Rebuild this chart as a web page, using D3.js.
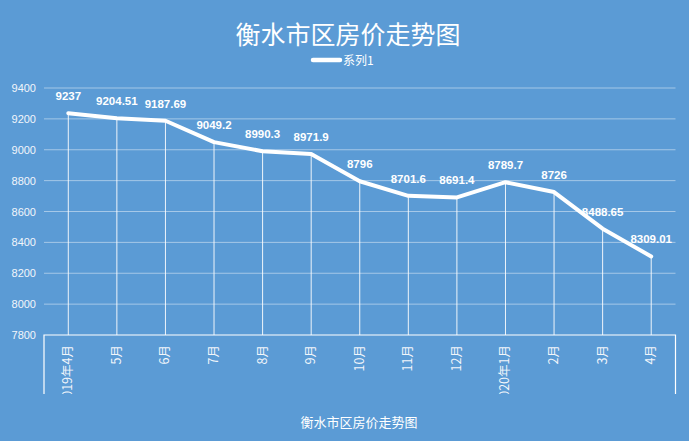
<!DOCTYPE html>
<html><head><meta charset="utf-8">
<script src="https://cdn.jsdelivr.net/npm/d3@7"></script>
<style>
html,body{margin:0;padding:0;background:#5b9bd5;}
svg{display:block;}
</style></head>
<body>
<svg id="c" width="689" height="441"></svg>
<script>
const categories = ["2019年4月","5月","6月","7月","8月","9月","10月","11月","12月","2020年1月","2月","3月","4月"];
const values = [9237, 9204.51, 9187.69, 9049.2, 8990.3, 8971.9, 8796, 8701.6, 8691.4, 8789.7, 8726, 8488.65, 8309.01];
const valueLabels = ["9237","9204.51","9187.69","9049.2","8990.3","8971.9","8796","8701.6","8691.4","8789.7","8726","8488.65","8309.01"];
const yTicks = [7800, 8000, 8200, 8400, 8600, 8800, 9000, 9200, 9400];
const title = "衡水市区房价走势图";
const seriesName = "系列1";
const axisTitle = "衡水市区房价走势图";

(function () {
const W = 689, H = 441;
const pLeft = 44, pRight = 675.5, pTop = 88, pBottom = 335;
const svg = d3.select("#c");
const font = "'Liberation Sans', Arial, sans-serif";
const cjk = "'Noto Sans CJK SC', sans-serif";

svg.append("rect").attr("width", W).attr("height", H).attr("fill", "#5b9bd5");

const x = d3.scaleBand().domain(categories).range([pLeft, pRight]).padding(0);
const y = d3.scaleLinear().domain([7800, 9400]).range([pBottom, pTop]);
const cx = d => x(d) + x.bandwidth() / 2;

// gridlines
svg.append("g").selectAll("line").data(yTicks.filter(t => t > 7800)).join("line")
  .attr("x1", pLeft).attr("x2", pRight)
  .attr("y1", d => y(d)).attr("y2", d => y(d))
  .attr("stroke", "rgba(255,255,255,0.45)").attr("stroke-width", 1);

// y-axis labels
const yAxis = d3.axisLeft(y).tickValues(yTicks).tickSize(0).tickPadding(8).tickFormat(d3.format("d"));
const gy = svg.append("g").attr("transform", `translate(${pLeft},0)`).call(yAxis);
gy.select(".domain").remove();
gy.selectAll("text").attr("fill", "#f2f6fb").attr("font-family", font).attr("font-size", 11);

// category axis box
svg.append("path")
  .attr("d", `M${pLeft},394 V${pBottom} H${pRight} V394`)
  .attr("fill", "none").attr("stroke", "#ffffff").attr("stroke-width", 1.2);

// category labels (clipped)
svg.append("clipPath").attr("id", "clipCat")
  .append("rect").attr("x", 0).attr("y", pBottom).attr("width", W).attr("height", 394 - pBottom);
const gc = svg.append("g").attr("clip-path", "url(#clipCat)");
gc.selectAll("text").data(categories).join("text")
  .attr("transform", d => `translate(${cx(d) + 4},${pBottom + 10}) rotate(-90)`)
  .attr("text-anchor", "end")
  .attr("font-family", cjk).attr("font-size", 12.5)
  .attr("fill", "#f2f6fb")
  .text(d => d);

// drop lines
svg.append("g").selectAll("line").data(categories).join("line")
  .attr("x1", d => cx(d)).attr("x2", d => cx(d))
  .attr("y1", (d, i) => y(values[i])).attr("y2", pBottom)
  .attr("stroke", "#ffffff").attr("stroke-width", 1).attr("opacity", 0.9);

// series line
const line = d3.line().x((d, i) => cx(categories[i])).y(d => y(d));
svg.append("path").datum(values)
  .attr("d", line)
  .attr("fill", "none").attr("stroke", "#ffffff").attr("stroke-width", 4)
  .attr("stroke-linejoin", "round").attr("stroke-linecap", "round");

// data labels
svg.append("g").selectAll("text").data(values).join("text")
  .attr("x", (d, i) => cx(categories[i]))
  .attr("y", d => y(d) - 13)
  .attr("text-anchor", "middle")
  .attr("font-family", font).attr("font-size", 11.5).attr("font-weight", "bold")
  .attr("fill", "#ffffff")
  .text((d, i) => valueLabels[i]);

// title
svg.append("text").attr("x", 348).attr("y", 44).attr("text-anchor", "middle")
  .attr("font-family", cjk).attr("font-size", 25).attr("fill", "#ffffff")
  .text(title);

// legend
svg.append("line").attr("x1", 313).attr("x2", 340).attr("y1", 60).attr("y2", 60)
  .attr("stroke", "#ffffff").attr("stroke-width", 4.5).attr("stroke-linecap", "round");
svg.append("text").attr("x", 343).attr("y", 64.5)
  .attr("font-family", cjk).attr("font-size", 12).attr("fill", "#ffffff")
  .text(seriesName);

// axis title
svg.append("text").attr("x", 359).attr("y", 427).attr("text-anchor", "middle")
  .attr("font-family", cjk).attr("font-size", 13).attr("fill", "#ffffff")
  .text(axisTitle);
})();
</script>
</body></html>
